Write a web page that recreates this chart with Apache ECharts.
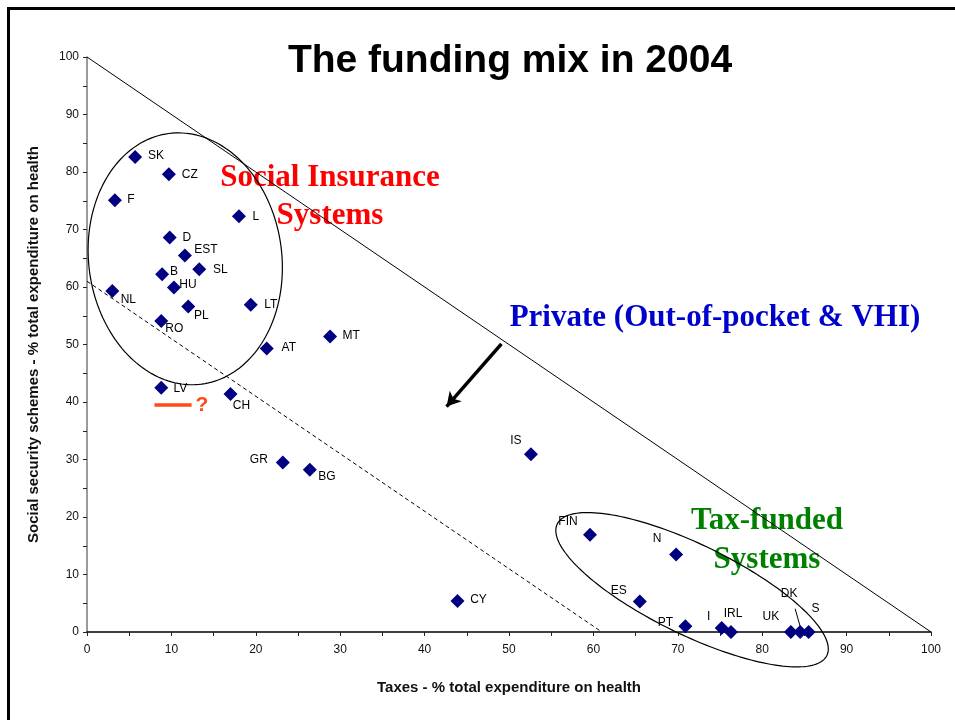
<!DOCTYPE html>
<html>
<head>
<meta charset="utf-8">
<title>The funding mix in 2004</title>
<script src="https://cdn.jsdelivr.net/npm/echarts/dist/echarts.min.js"></script>
<style>
  html, body { margin: 0; padding: 0; background: #ffffff; }
  #chart { width: 955px; height: 720px; }
</style>
</head>
<body>
<div id="chart"></div>
<script>
// Country codes and their funding shares (% of total expenditure on health), 2004
const countries = ['SK','CZ','F','L','D','EST','SL','B','HU','NL','LT','PL','RO','AT','MT','LV','CH','GR','BG','IS','CY','FIN','N','ES','PT','I','IRL','UK','DK','S'];
const taxShare = [5.7, 9.7, 3.3, 18.0, 9.8, 11.6, 13.3, 8.9, 10.3, 3.0, 19.4, 12.0, 8.8, 21.3, 28.8, 8.8, 17.0, 23.2, 26.4, 52.6, 43.9, 59.6, 69.8, 65.5, 70.9, 75.2, 76.3, 83.4, 84.5, 85.5];
const socialShare = [82.6, 79.6, 75.1, 72.3, 68.6, 65.5, 63.1, 62.2, 59.9, 59.3, 56.9, 56.6, 54.1, 49.3, 51.4, 42.5, 41.4, 29.5, 28.2, 30.9, 5.4, 16.9, 13.5, 5.3, 1.0, 0.7, 0, 0, 0, 0];

// Axis ticks
const axisMin = 0, axisMax = 100, tickStep = 5, labelStep = 10;

// Reference lines: taxes + social security = 100 %, and = 61 %
const fullPublicLine = [[0, 100], [100, 0]];
const dashedLine = [[0, 61], [61, 0]];

// Label offsets (pixels from the marker centre) so country codes don't collide
const labelShift = {
  SK:[21,-1], CZ:[21,0], F:[16,0], L:[17,0], D:[17,0], EST:[21,-6], SL:[21,1], B:[12,-3],
  HU:[14,-3], NL:[16,9], LT:[20,0], PL:[13,9], RO:[13,8], AT:[22,-1], MT:[21,-1], LV:[19,1],
  CH:[11,12], GR:[-24,-3], BG:[17,7], IS:[-15,-14], CY:[21,-1], FIN:[-22,-13], N:[-19,-16],
  ES:[-21,-11], PT:[-20,-4], I:[-13,-11], IRL:[2,-18], UK:[-20,-15], DK:[-11,-38], S:[7,-23]
};

// Group outlines: centre (data), semi-axes (x units, y units), rotation in degrees
const groupOutlines = [
  [11.64, 64.9, 11.44, 21.98, -7.5],
  [71.69, 7.35, 17.77, 7.82, 26]
];

const points = countries.map((c, i) => ({
  name: c,
  value: [taxShare[i], socialShare[i]],
  label: { offset: labelShift[c] || [18, 0] }
}));

const chart = echarts.init(document.getElementById('chart'), null, { renderer: 'canvas' });

const axisCommon = {
  type: 'value',
  min: axisMin,
  max: axisMax,
  interval: tickStep,
  splitLine: { show: false },
  axisTick: { show: true, inside: false, length: 4, lineStyle: { color: '#222', width: 1 } },
  axisLabel: {
    fontFamily: 'Liberation Sans, Arial, sans-serif',
    fontSize: 12,
    color: '#111',
    formatter: v => (v % labelStep === 0 ? String(v) : '')
  },
  nameLocation: 'middle',
  nameTextStyle: {
    fontFamily: 'Liberation Sans, Arial, sans-serif',
    fontWeight: 'bold',
    fontSize: 15,
    color: '#111'
  }
};

chart.setOption({
  animation: false,
  backgroundColor: '#ffffff',
  title: {
    text: 'The funding mix in 2004',
    left: 505,
    top: 37,
    textAlign: 'center',
    textStyle: {
      fontFamily: 'Liberation Sans, Arial, sans-serif',
      fontWeight: 'bold',
      fontSize: 39,
      color: '#000'
    }
  },
  grid: { left: 87, right: 24, top: 57, bottom: 88, containLabel: false },
  xAxis: Object.assign({}, axisCommon, {
    name: 'Taxes - % total expenditure on health',
    nameGap: 48,
    axisLine: { lineStyle: { color: '#000', width: 1.5 } },
    axisLabel: Object.assign({}, axisCommon.axisLabel, { margin: 12 })
  }),
  yAxis: Object.assign({}, axisCommon, {
    name: 'Social security schemes - % total expenditure on health',
    nameGap: 46,
    nameRotate: 90,
    axisLine: { lineStyle: { color: '#7a7a7a', width: 1.5 } },
    axisLabel: Object.assign({}, axisCommon.axisLabel, { margin: 8 })
  }),
  series: [
    {
      type: 'line',
      data: fullPublicLine,
      symbol: 'none',
      silent: true,
      lineStyle: { color: '#000', width: 1 },
      z: 1
    },
    {
      type: 'line',
      data: dashedLine,
      symbol: 'none',
      silent: true,
      lineStyle: { color: '#000', width: 1, type: [4, 3] },
      z: 1,
      markLine: {
        silent: true,
        animation: false,
        data: [
          // arrow pointing towards the private-funding corner
          [
            { coord: [49.1, 50.1], symbol: 'none', lineStyle: { color: '#000', width: 3.5, type: 'solid' }, label: { show: false } },
            { coord: [42.6, 39.2], symbol: 'arrow', symbolSize: [12, 14] }
          ],
          // question mark marker under Latvia
          [
            { coord: [7.99, 39.5], symbol: 'none', lineStyle: { color: '#ff4a17', width: 3.5, type: 'solid' },
              label: { show: true, position: 'end', formatter: '?', color: '#ff4a17', fontSize: 21, fontWeight: 'bold',
                       fontFamily: 'Liberation Sans, Arial, sans-serif', distance: 4 } },
            { coord: [12.39, 39.5], symbol: 'none' }
          ],
          // leader line for the DK label
          [
            { coord: [83.9, 4.05], symbol: 'none', lineStyle: { color: '#000', width: 1, type: 'solid' }, label: { show: false } },
            { coord: [84.55, 0.7], symbol: 'none' }
          ]
        ]
      }
    },
    {
      type: 'custom',
      silent: true,
      clip: false,
      z: 2,
      data: groupOutlines,
      renderItem: function (params, api) {
        const c = api.coord([api.value(0), api.value(1)]);
        const s = api.size([api.value(2), api.value(3)]);
        const a = s[0], b = s[1];
        const phi = api.value(4) * Math.PI / 180;
        const cp = Math.cos(phi), sp = Math.sin(phi);
        const pts = [];
        for (let k = 0; k < 180; k++) {
          const t = k / 180 * Math.PI * 2;
          const ex = a * Math.cos(t), ey = b * Math.sin(t);
          pts.push([c[0] + ex * cp - ey * sp, c[1] + ex * sp + ey * cp]);
        }
        return {
          type: 'polygon',
          shape: { points: pts },
          style: { fill: 'none', stroke: '#000', lineWidth: 1.2 }
        };
      }
    },
    {
      type: 'scatter',
      data: points,
      symbol: 'diamond',
      symbolSize: 14,
      itemStyle: { color: '#000080', opacity: 1 },
      z: 5,
      label: {
        show: true,
        position: 'inside',
        formatter: '{b}',
        fontFamily: 'Liberation Sans, Arial, sans-serif',
        fontSize: 12,
        color: '#000',
        opacity: 1
      }
    }
  ],
  graphic: [
    {
      type: 'rect',
      silent: true,
      shape: { x: 8.5, y: 8.5, width: 1200, height: 1200 },
      style: { fill: 'none', stroke: '#000', lineWidth: 3 },
      z: 100
    },
    {
      type: 'text', silent: true, x: 330, y: 178,
      style: { text: 'Social Insurance', fill: '#ff0000', font: 'bold 31px "Liberation Serif", "Times New Roman", serif', textAlign: 'center', textVerticalAlign: 'middle' }
    },
    {
      type: 'text', silent: true, x: 330, y: 216,
      style: { text: 'Systems', fill: '#ff0000', font: 'bold 31px "Liberation Serif", "Times New Roman", serif', textAlign: 'center', textVerticalAlign: 'middle' }
    },
    {
      type: 'text', silent: true, x: 715, y: 318,
      style: { text: 'Private (Out-of-pocket & VHI)', fill: '#0000cc', font: 'bold 31px "Liberation Serif", "Times New Roman", serif', textAlign: 'center', textVerticalAlign: 'middle' }
    },
    {
      type: 'text', silent: true, x: 767, y: 521,
      style: { text: 'Tax-funded', fill: '#008000', font: 'bold 31px "Liberation Serif", "Times New Roman", serif', textAlign: 'center', textVerticalAlign: 'middle' }
    },
    {
      type: 'text', silent: true, x: 767, y: 560,
      style: { text: 'Systems', fill: '#008000', font: 'bold 31px "Liberation Serif", "Times New Roman", serif', textAlign: 'center', textVerticalAlign: 'middle' }
    }
  ]
});
</script>
</body>
</html>
